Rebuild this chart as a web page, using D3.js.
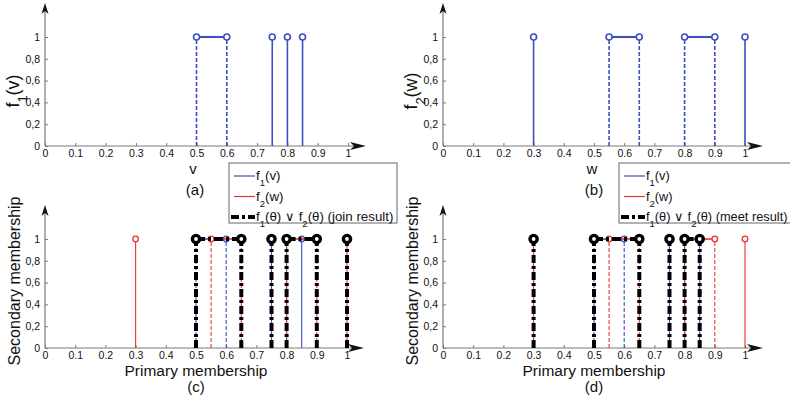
<!DOCTYPE html>
<html><head><meta charset="utf-8">
<script src="https://cdn.jsdelivr.net/npm/d3@7"></script>
<style>
body{margin:0;background:#fff;}
svg{display:block;font-family:"Liberation Sans",Arial,sans-serif;}
</style></head>
<body><svg id="c" width="790" height="402"></svg>
<script>
// ---- data ----
const xTicks = [0,0.1,0.2,0.3,0.4,0.5,0.6,0.7,0.8,0.9,1];
const xTickLabels = ["0","0.1","0.2","0.3","0.4","0.5","0.6","0.7","0.8","0.9","1"];
const yTicks = [0,0.2,0.4,0.6,0.8,1];
const yTickLabels = ["0","0,2","0,4","0,6","0,8","1"];

const f1Solid = [0.75,0.8,0.85];
const f1Dashed = [0.5,0.6];
const f1Spans = [[0.5,0.6]];
const f2Solid = [0.3,1];
const f2Dashed = [0.55,0.65,0.8,0.9];
const f2Spans = [[0.55,0.65],[0.8,0.9]];
const joinPoints = [0.5,0.65,0.75,0.8,0.9,1];
const joinSpans = [[0.5,0.65],[0.8,0.9]];
const meetPoints = [0.3,0.5,0.65,0.75,0.8,0.85];
const meetSpans = [[0.5,0.65],[0.8,0.85]];

const BLUE = "#3d4fbf", RED = "#e8342f", BLACK = "#000", AXIS = "#7a7a7a";

const svg = d3.select("#c");

function panel(o){
  const g = svg.append("g");
  const x = d3.scaleLinear().domain([0,1]).range([o.x0,o.x1]);
  const y = d3.scaleLinear().domain([0,1]).range([o.yb,o.yt]);
  const ya = g.append("g").attr("transform",`translate(${o.x0},0)`)
    .call(d3.axisLeft(y).tickValues(yTicks).tickSize(-3).tickPadding(6)
      .tickFormat((d,i)=>yTickLabels[i]));
  const xa = g.append("g").attr("transform",`translate(0,${o.yb})`)
    .call(d3.axisBottom(x).tickValues(xTicks).tickSize(-3).tickPadding(4)
      .tickFormat((d,i)=>xTickLabels[i]));
  [ya,xa].forEach(a=>{
    a.select(".domain").remove();
    a.selectAll(".tick line").attr("stroke",AXIS);
    a.selectAll("text").attr("font-size",10.5).attr("fill","#111")
      .attr("font-family","'Liberation Sans',Arial,sans-serif");
  });
  xa.selectAll("text").attr("dy","0.62em");
  ya.selectAll("text").attr("dx","1");
  g.append("line").attr("x1",o.x0).attr("x2",o.x0).attr("y1",o.yb).attr("y2",o.arrowTop+6)
    .attr("stroke",AXIS).attr("stroke-width",1.2);
  g.append("line").attr("x1",o.x0).attr("x2",o.arrowRight-6).attr("y1",o.yb).attr("y2",o.yb)
    .attr("stroke",AXIS).attr("stroke-width",1.2);
  g.append("path").attr("d",`M${o.x0},${o.arrowTop} L${o.x0-3.5},${o.arrowTop+11} L${o.x0},${o.arrowTop+8} L${o.x0+3.5},${o.arrowTop+11}Z`).attr("fill","#111");
  g.append("path").attr("d",`M${o.arrowRight},${o.yb} L${o.arrowRight-16},${o.yb-4} L${o.arrowRight-12},${o.yb} L${o.arrowRight-16},${o.yb+4}Z`).attr("fill","#111");
  return {g,x,y};
}

function stems(p, solid, dashed, spans, color, w, r, cw){
  const {g,x,y} = p;
  g.selectAll(null).data(spans).enter().append("line")
    .attr("x1",d=>x(d[0])).attr("x2",d=>x(d[1])).attr("y1",y(1)).attr("y2",y(1))
    .attr("stroke",color).attr("stroke-width",w+0.5);
  g.selectAll(null).data(solid).enter().append("line")
    .attr("x1",d=>x(d)).attr("x2",d=>x(d)).attr("y1",y(0)).attr("y2",y(1))
    .attr("stroke",color).attr("stroke-width",w);
  g.selectAll(null).data(dashed).enter().append("line")
    .attr("x1",d=>x(d)).attr("x2",d=>x(d)).attr("y1",y(0)).attr("y2",y(1))
    .attr("stroke",color).attr("stroke-width",w).attr("stroke-dasharray","4,2");
  g.selectAll(null).data(solid.concat(dashed)).enter().append("circle")
    .attr("cx",d=>x(d)).attr("cy",y(1)).attr("r",r)
    .attr("fill","#fff").attr("stroke",color).attr("stroke-width",cw);
}

function result(p, pts, spans){
  const {g,x,y} = p;
  g.selectAll(null).data(spans).enter().append("line")
    .attr("x1",d=>x(d[0])).attr("x2",d=>x(d[1])).attr("y1",y(1)).attr("y2",y(1))
    .attr("stroke",BLACK).attr("stroke-width",4).attr("stroke-dasharray","9,3,3,3");
  g.selectAll(null).data(pts).enter().append("line")
    .attr("x1",d=>x(d)).attr("x2",d=>x(d)).attr("y1",y(0)).attr("y2",y(1))
    .attr("stroke",BLACK).attr("stroke-width",4).attr("stroke-dasharray","8,3,3,3");
  g.selectAll(null).data(pts).enter().append("circle")
    .attr("cx",d=>x(d)).attr("cy",y(1)).attr("r",3.6)
    .attr("fill","#fff").attr("stroke",BLACK).attr("stroke-width",3.4);
}

function yLabel(xc, yc, parts, size){
  const t = svg.append("text").attr("transform",`translate(${xc},${yc}) rotate(-90)`)
    .attr("text-anchor","middle").attr("font-size",size).attr("fill","#111");
  parts.forEach(pt=>{
    const s = t.append("tspan").text(pt.t);
    if(pt.sub) s.attr("baseline-shift","sub").attr("font-size",size*0.72);
  });
}
function label(xc, yb, txt, size){
  svg.append("text").attr("x",xc).attr("y",yb).attr("text-anchor","middle")
    .attr("font-size",size).attr("fill","#111").text(txt);
}

const pa = panel({x0:45,x1:348,yb:146,yt:37,arrowTop:3,arrowRight:366});
const pb = panel({x0:443,x1:745,yb:146,yt:37,arrowTop:3,arrowRight:763});
const pc = panel({x0:45,x1:347,yb:348,yt:239,arrowTop:205,arrowRight:364});
const pd = panel({x0:443,x1:745,yb:348,yt:239,arrowTop:205,arrowRight:763});

stems(pa, f1Solid, f1Dashed, f1Spans, BLUE, 1.6, 3, 1.6);
stems(pb, f2Solid, f2Dashed, f2Spans, BLUE, 1.6, 3, 1.6);

stems(pc, f1Solid, f1Dashed, f1Spans, BLUE, 1.1, 2.8, 1.3);
stems(pc, f2Solid, f2Dashed, f2Spans, RED, 1.1, 2.8, 1.3);
result(pc, joinPoints, joinSpans);

stems(pd, f1Solid, f1Dashed, f1Spans, BLUE, 1.1, 2.8, 1.3);
stems(pd, f2Solid, f2Dashed, f2Spans, RED, 1.1, 2.8, 1.3);
result(pd, meetPoints, meetSpans);

label(193,174,"v",15); label(195,195,"(a)",15);
label(592,174,"w",15); label(594,195,"(b)",15);
label(196,376,"Primary membership",15.5); label(196,392,"(c)",15);
label(594,376,"Primary membership",15.5); label(594,392,"(d)",15);
yLabel(19,91,[{t:"f"},{t:"1",sub:true},{t:"(v)"}],18);
yLabel(417,91,[{t:"f"},{t:"2",sub:true},{t:"(w)"}],18);
yLabel(20,281,[{t:"Secondary membership"}],16);
yLabel(418,281,[{t:"Secondary membership"}],16);

function legend(x0, y0, w, kind, fs){
  const g = svg.append("g");
  g.append("rect").attr("x",x0).attr("y",y0).attr("width",w).attr("height",60)
    .attr("fill","#fff").attr("stroke","#666").attr("stroke-width",1);
  const rows = [
    {c:BLUE, sw:1.2, dash:null, parts:[{t:"f"},{t:"1",sub:true},{t:"(v)"}]},
    {c:RED, sw:1.2, dash:null, parts:[{t:"f"},{t:"2",sub:true},{t:"(w)"}]},
    {c:BLACK, sw:4, dash:"8,3,3,3", parts:[{t:"f"},{t:"1",sub:true},{t:"(θ) ∨ f"},{t:"2",sub:true},{t:"(θ) ("+kind+" result)"}]}
  ];
  rows.forEach((r,i)=>{
    const yy = y0+13+i*20.5;
    g.append("line").attr("x1",x0+(i==2?2:5)).attr("x2",x0+26).attr("y1",yy).attr("y2",yy)
      .attr("stroke",r.c).attr("stroke-width",r.sw).attr("stroke-dasharray",r.dash);
    const t = g.append("text").attr("x",x0+27).attr("y",yy+4).attr("font-size",fs).attr("fill","#111");
    r.parts.forEach(pt=>{
      const s = t.append("tspan").text(pt.t);
      if(pt.sub) s.attr("baseline-shift","sub").attr("font-size",9.5);
    });
  });
}
legend(229,163,168,"join",13.3);
legend(619,163,190,"meet",12.8);
</script></body></html>
